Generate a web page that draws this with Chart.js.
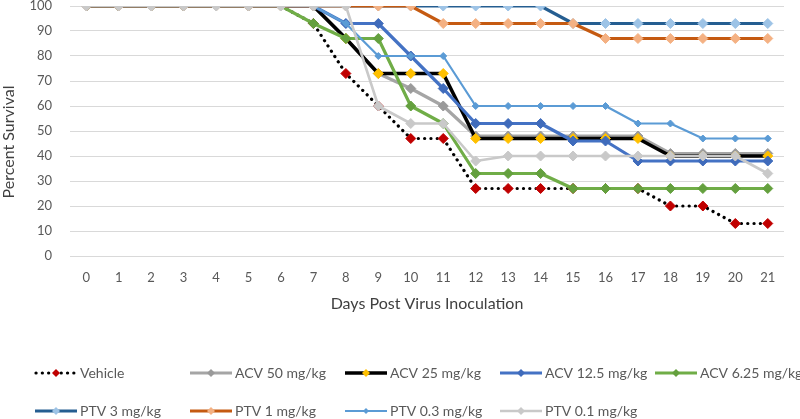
<!DOCTYPE html>
<html>
<head>
<meta charset="utf-8">
<script src="https://cdn.jsdelivr.net/npm/chart.js@4/dist/chart.umd.min.js"></script>
<style>
  html, body { margin: 0; padding: 0; background: #ffffff; }
  #wrap { position: relative; width: 800px; height: 419px; }
</style>
</head>
<body>
<div id="wrap"><canvas id="c" width="800" height="419"></canvas></div>
<script>
// ---- data ----
const days = ["0","1","2","3","4","5","6","7","8","9","10","11","12","13","14","15","16","17","18","19","20","21"];
const yTicks = [0,10,20,30,40,50,60,70,80,90,100];
const seriesNames = ["Vehicle","ACV 50 mg/kg","ACV 25 mg/kg","ACV 12.5 mg/kg","ACV 6.25 mg/kg","PTV 3 mg/kg","PTV 1 mg/kg","PTV 0.3 mg/kg","PTV 0.1 mg/kg"];
const vehicle = [100,100,100,100,100,100,100,93,73,60,47,47,27,27,27,27,27,27,20,20,13,13];
const acv50   = [100,100,100,100,100,100,100,100,87,73,67,60,48,48,48,48,48,48,41,41,41,41];
const acv25   = [100,100,100,100,100,100,100,100,87,73,73,73,47,47,47,47,47,47,40,40,40,40];
const acv12_5 = [100,100,100,100,100,100,100,100,93,93,80,67,53,53,53,46,46,38,38,38,38,38];
const acv6_25 = [100,100,100,100,100,100,100,93,87,87,60,53,33,33,33,27,27,27,27,27,27,27];
const ptv3    = [100,100,100,100,100,100,100,100,100,100,100,100,100,100,100,93,93,93,93,93,93,93];
const ptv1    = [100,100,100,100,100,100,100,100,100,100,100,93,93,93,93,93,87,87,87,87,87,87];
const ptv0_3  = [100,100,100,100,100,100,100,100,93,80,80,80,60,60,60,60,60,53,53,47,47,47];
const ptv0_1  = [100,100,100,100,100,100,100,100,100,60,53,53,38,40,40,40,40,40,40,40,40,33];

const values = [vehicle, acv50, acv25, acv12_5, acv6_25, ptv3, ptv1, ptv0_3, ptv0_1];

// ---- styles ----
const styles = [
  { line: "#000000", fill: "#c00000", w: 3.2, r: 5, dash: [0.1, 6.2] },
  { line: "#a5a5a5", fill: "#9a9a9a", w: 3.2, r: 5 },
  { line: "#000000", fill: "#ffc000", w: 3.6, r: 5 },
  { line: "#4472c4", fill: "#3f6bbb", w: 3.2, r: 5 },
  { line: "#70ad47", fill: "#64a03e", w: 3.2, r: 5 },
  { line: "#255e91", fill: "#9dc3e6", w: 3.2, r: 5 },
  { line: "#c55a11", fill: "#f4b183", w: 3.2, r: 5 },
  { line: "#5b9bd5", fill: "#5b9bd5", w: 2.2, r: 3.5 },
  { line: "#c9c9c9", fill: "#c9c9c9", w: 2.6, r: 5 }
];

const FONT = "Lato, 'Open Sans', sans-serif";

const datasets = seriesNames.map((name, i) => ({
  label: name,
  data: values[i],
  borderColor: styles[i].line,
  borderWidth: styles[i].w,
  borderDash: styles[i].dash || [],
  borderCapStyle: styles[i].dash ? "round" : "butt",
  borderJoinStyle: "round",
  pointStyle: "rectRot",
  pointRadius: styles[i].r,
  pointHoverRadius: styles[i].r,
  pointBackgroundColor: styles[i].fill,
  pointBorderColor: styles[i].fill,
  pointBorderWidth: 1,
  tension: 0,
  fill: false,
  order: 20 - i
}));

// legend layout: columns & rows
const legendCols = [35, 190, 345, 500, 655];
const legendRows = [373, 411];

const customDraw = {
  id: "customDraw",
  afterDraw(chart) {
    const ctx = chart.ctx;
    ctx.save();
    // y-axis title
    ctx.fillStyle = "#404040";
    ctx.font = "16px " + FONT;
    ctx.textAlign = "center";
    ctx.textBaseline = "middle";
    ctx.translate(9, 142);
    ctx.rotate(-Math.PI / 2);
    ctx.fillText("Percent Survival", 0, 0);
    ctx.restore();

    // legend
    ctx.save();
    seriesNames.forEach((name, i) => {
      const col = i < 5 ? i : i - 5;
      const row = i < 5 ? 0 : 1;
      const x0 = legendCols[col];
      const y = legendRows[row];
      const st = styles[i];
      ctx.beginPath();
      ctx.strokeStyle = st.line;
      ctx.lineWidth = st.w;
      ctx.setLineDash(st.dash || []);
      ctx.lineCap = st.dash ? "round" : "butt";
      ctx.moveTo(x0 + (st.dash ? 1 : 0), y);
      ctx.lineTo(x0 + 42, y);
      ctx.stroke();
      ctx.setLineDash([]);
      const r = i === 7 ? 3 : 4;
      const cx = x0 + 21;
      ctx.beginPath();
      ctx.moveTo(cx - r, y); ctx.lineTo(cx, y - r); ctx.lineTo(cx + r, y); ctx.lineTo(cx, y + r);
      ctx.closePath();
      ctx.fillStyle = st.fill;
      ctx.fill();
      ctx.fillStyle = "#595959";
      ctx.font = "14px " + FONT;
      ctx.textAlign = "left";
      ctx.textBaseline = "middle";
      ctx.fillText(name, x0 + 45, y);
    });
    ctx.restore();
  }
};

new Chart(document.getElementById("c"), {
  type: "line",
  data: { labels: days, datasets: datasets },
  options: {
    responsive: false,
    animation: false,
    events: [],
    layout: { padding: { top: 6, right: 16, bottom: 106, left: 0 } },
    plugins: {
      legend: { display: false },
      tooltip: { enabled: false }
    },
    scales: {
      x: {
        type: "category",
        offset: true,
        grid: { display: false, drawTicks: false },
        border: { display: false },
        ticks: { color: "#595959", font: { family: FONT, size: 13 }, padding: 14, maxRotation: 0, autoSkip: false },
        title: { display: true, text: "Days Post Virus Inoculation", color: "#404040", font: { family: FONT, size: 16 }, padding: { top: 2, bottom: 0 } },
        afterFit(s) { s.height = 57; s.paddingLeft = 0; s.paddingRight = 0; }
      },
      y: {
        min: 0, max: 100,
        afterBuildTicks(s) { s.ticks = yTicks.map(v => ({ value: v })); },
        grid: { color: "#d9d9d9", lineWidth: 1, drawTicks: false },
        border: { display: false },
        ticks: { color: "#595959", font: { family: FONT, size: 13 }, padding: 18 },
        afterFit(s) { s.width = 70; s.paddingTop = 0; s.paddingBottom = 0; }
      }
    }
  },
  plugins: [customDraw]
});
</script>
</body>
</html>
